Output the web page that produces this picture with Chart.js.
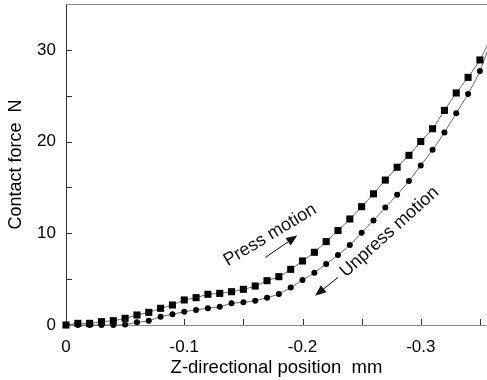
<!DOCTYPE html>
<html>
<head>
<meta charset="utf-8">
<script src="https://cdn.jsdelivr.net/npm/chart.js@4"></script>
<style>
  html, body { margin: 0; padding: 0; background: #fff; }
  #wrap { width: 487px; height: 380px; }
</style>
</head>
<body>
<div id="wrap"><canvas id="chart" width="487" height="380"></canvas></div>
<script>
// Contact force vs Z-position, press / unpress curves

// --------------------- Data ---------------------
const pressPos = [0, -0.01, -0.02, -0.03, -0.04, -0.05, -0.06, -0.07, -0.08, -0.09,
  -0.10, -0.11, -0.12, -0.13, -0.14, -0.15, -0.16, -0.17, -0.18, -0.19,
  -0.20, -0.21, -0.22, -0.23, -0.24, -0.25, -0.26, -0.27, -0.28, -0.29,
  -0.30, -0.31, -0.32, -0.33, -0.34, -0.35, -0.36];
const pressForce = [0, 0.18, 0.18, 0.36, 0.47, 0.73, 1.09, 1.38, 1.82, 2.18,
  2.73, 2.98, 3.35, 3.45, 3.63, 3.89, 4.25, 4.83, 5.27, 6.07,
  6.98, 7.93, 9.09, 10.3, 11.56, 12.9, 14.3, 15.8, 17.2, 18.5,
  20.0, 21.4, 23.4, 25.3, 27.0, 28.9, 31.5];

const unpressPos = pressPos;
const unpressForce = [0, 0, 0, 0, 0, 0.05, 0.29, 0.47, 0.91, 1.16,
  1.45, 1.64, 1.82, 2.0, 2.36, 2.47, 2.65, 2.98, 3.38, 4.1,
  4.9, 5.7, 6.65, 7.63, 8.72, 10.07, 11.4, 12.8, 14.2, 15.7,
  17.4, 19.1, 21.0, 23.1, 25.2, 27.7, 31.2];

const xTickLabels = ["0", "-0.1", "-0.2", "-0.3"];
const yTickLabels = ["0", "10", "20", "30"];

// annotation anchors, in data units
const notes = [
  { text: "Press motion", x: -0.1726, y: 9.81, angle: -31,
    arrow: [[-0.1686, 7.36], [-0.1955, 9.75]] },
  { text: "Unpress motion", x: -0.2735, y: 10.14, angle: -42,
    arrow: [[-0.2300, 5.18], [-0.2106, 3.20]] }
];

// --------------------- Helpers ---------------------
const toXY = (xs, ys) => xs.map((x, i) => ({ x, y: ys[i] }));
const FONT = "'Liberation Sans', Arial, sans-serif";

// inward tick marks + top frame + annotations
const decorations = {
  id: 'decorations',
  afterDraw(chart) {
    const { ctx, chartArea: a, scales: { x, y } } = chart;
    ctx.save();
    ctx.lineWidth = 1;

    // top frame line
    ctx.strokeStyle = '#888';
    ctx.beginPath();
    ctx.moveTo(a.left, a.top + 0.5);
    ctx.lineTo(a.right, a.top + 0.5);
    ctx.stroke();

    ctx.strokeStyle = '#333';
    x.ticks.forEach(t => {
      const px = Math.round(x.getPixelForValue(t.value)) + 0.5;
      if (px <= a.left + 1 || px >= a.right) return;
      ctx.beginPath();
      ctx.moveTo(px, a.bottom);
      ctx.lineTo(px, a.bottom - 6);
      ctx.stroke();
    });
    y.ticks.forEach(t => {
      const py = Math.round(y.getPixelForValue(t.value)) + 0.5;
      if (py >= a.bottom - 1 || py <= a.top + 1) return;
      ctx.beginPath();
      ctx.moveTo(a.left, py);
      ctx.lineTo(a.left + 6, py);
      ctx.stroke();
    });

    // annotations
    ctx.fillStyle = '#111';
    ctx.strokeStyle = '#111';
    ctx.font = `18px ${FONT}`;
    ctx.textAlign = 'center';
    ctx.textBaseline = 'middle';
    notes.forEach(n => {
      const cx = x.getPixelForValue(n.x), cy = y.getPixelForValue(n.y);
      ctx.save();
      ctx.translate(cx, cy);
      ctx.rotate(n.angle * Math.PI / 180);
      ctx.fillText(n.text, 0, 0);
      ctx.restore();

      const [p0, p1] = n.arrow;
      const x0 = x.getPixelForValue(p0[0]), y0 = y.getPixelForValue(p0[1]);
      const x1 = x.getPixelForValue(p1[0]), y1 = y.getPixelForValue(p1[1]);
      const ang = Math.atan2(y1 - y0, x1 - x0);
      const hl = 11, hw = 4.5;
      ctx.beginPath();
      ctx.moveTo(x0, y0);
      ctx.lineTo(x1 - hl * 0.8 * Math.cos(ang), y1 - hl * 0.8 * Math.sin(ang));
      ctx.stroke();
      ctx.beginPath();
      ctx.moveTo(x1, y1);
      ctx.lineTo(x1 - hl * Math.cos(ang) + hw * Math.sin(ang), y1 - hl * Math.sin(ang) - hw * Math.cos(ang));
      ctx.lineTo(x1 - hl * Math.cos(ang) - hw * Math.sin(ang), y1 - hl * Math.sin(ang) + hw * Math.cos(ang));
      ctx.closePath();
      ctx.fill();
    });
    ctx.restore();
  }
};

// let markers spill over the bottom/left axes but cut at the right edge
const CLIP = { left: 8, top: 0, right: 0, bottom: 8 };

// --------------------- Chart ---------------------
new Chart(document.getElementById('chart').getContext('2d'), {
  type: 'scatter',
  data: {
    datasets: [
      {
        label: 'Press motion',
        data: toXY(pressPos, pressForce),
        showLine: true,
        borderColor: '#666',
        borderWidth: 1,
        tension: 0.25,
        pointStyle: 'rect',
        pointRadius: 5,
        pointBackgroundColor: '#000',
        pointBorderColor: '#000',
        pointBorderWidth: 0,
        clip: CLIP
      },
      {
        label: 'Unpress motion',
        data: toXY(unpressPos, unpressForce),
        showLine: true,
        borderColor: '#666',
        borderWidth: 1,
        tension: 0.25,
        pointStyle: 'circle',
        pointRadius: 3,
        pointBackgroundColor: '#000',
        pointBorderColor: '#000',
        pointBorderWidth: 0,
        clip: CLIP
      }
    ]
  },
  options: {
    responsive: false,
    animation: false,
    events: [],
    layout: { autoPadding: false, padding: { top: 4, right: 0, left: 0, bottom: 0 } },
    plugins: { legend: { display: false }, tooltip: { enabled: false } },
    scales: {
      x: {
        type: 'linear',
        reverse: true,
        min: -0.356,
        max: 0,
        grid: { display: false, drawTicks: false },
        border: { display: true, color: '#888', width: 1 },
        ticks: {
          stepSize: 0.05,
          includeBounds: false,
          autoSkip: false,
          maxRotation: 0,
          padding: 12,
          color: '#000',
          font: { family: FONT, size: 17 },
          callback: (v) => {
            const s = String(Math.round(v * 100) / 100);
            return xTickLabels.includes(s) ? s : '';
          }
        },
        title: {
          display: true,
          text: 'Z-directional position  mm',
          color: '#000',
          font: { family: FONT, size: 18.5 },
          padding: { top: 0, bottom: 1 }
        },
        afterFit(scale) {
          scale.height = 55;
          scale.paddingLeft = 0;
          scale.paddingRight = 0;
        }
      },
      y: {
        type: 'linear',
        min: 0,
        max: 35,
        grid: { display: false, drawTicks: false },
        border: { display: true, color: '#333', width: 1 },
        ticks: {
          stepSize: 5,
          autoSkip: false,
          padding: 10,
          color: '#000',
          font: { family: FONT, size: 17 },
          callback: (v) => {
            const s = String(v);
            return yTickLabels.includes(s) ? s : '';
          }
        },
        title: {
          display: true,
          text: 'Contact force  N',
          color: '#000',
          font: { family: FONT, size: 18 },
          padding: { top: 5, bottom: 0 }
        },
        afterFit(scale) {
          scale.width = 66;
          scale.paddingTop = 0;
          scale.paddingBottom = 0;
        }
      }
    }
  },
  plugins: [decorations]
});
</script>
</body>
</html>
